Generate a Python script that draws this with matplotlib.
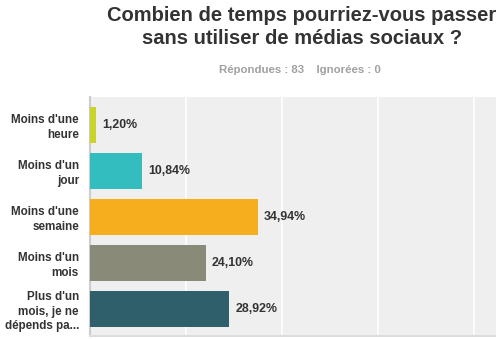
import matplotlib
matplotlib.use("Agg")
import matplotlib.pyplot as plt

categories = ["Moins d'une\nheure", "Moins d'un\njour", "Moins d'une\nsemaine",
              "Moins d'un\nmois", "Plus d'un\nmois, je ne\ndépends pa..."]
values = [1.20, 10.84, 34.94, 24.10, 28.92]
value_labels = ["1,20%", "10,84%", "34,94%", "24,10%", "28,92%"]
colors = ["#c8d42a", "#33bdbe", "#f6ae1f", "#8a8a78", "#2e5f6b"]
title = "Combien de temps pourriez-vous passer\nsans utiliser de médias sociaux ?"
subtitle = "Répondues : 83    Ignorées : 0"

plt.rcParams['font.family'] = ['Liberation Sans', 'DejaVu Sans']

W, H = 496, 339
fig = plt.figure(figsize=(W / 100, H / 100), dpi=100)
ax = fig.add_axes([90 / W, 1 - 336 / H, (496 - 90) / W, (336 - 97) / H])
ax.set_facecolor("#efefef")

ypos = list(range(len(values)))
ax.barh(ypos, values, height=0.78, color=colors, zorder=3)
ax.set_ylim(len(values) - 0.41, -0.6)
ax.set_xlim(0, 84.5)
ax.set_xticks([20, 40, 60, 80])
ax.xaxis.grid(True, color="white", linewidth=1.2, zorder=1)
ax.tick_params(axis='x', which='both', length=0, labelbottom=False)
ax.tick_params(axis='y', length=0, pad=8)
ax.set_yticks(ypos)
ax.set_yticklabels(categories, fontsize=8.4, fontweight='bold', color="#333333",
                   linespacing=1.3)
for lbl in ax.get_yticklabels():
    lbl.set_horizontalalignment('right')

for sp in ['top', 'right']:
    ax.spines[sp].set_visible(False)
ax.spines['left'].set_color("#cccccc")
ax.spines['left'].set_linewidth(1.5)
ax.spines['bottom'].set_color("#dddddd")
ax.spines['bottom'].set_linewidth(1.5)

for y, v, t in zip(ypos, values, value_labels):
    ax.annotate(t, xy=(v, y), xytext=(4.5, 0), textcoords='offset points',
                va='center', ha='left', fontsize=8.9, fontweight='bold',
                color="#333333", zorder=4)

fig.text(302 / W, 1 - 27 / H, title, ha='center', va='center', fontsize=14.5,
         fontweight='bold', color="#333333", linespacing=1.27)
fig.text(300 / W, 1 - 70 / H, subtitle, ha='center', va='center', fontsize=8.2,
         fontweight='bold', color="#a0a0a0")

fig.savefig("out.png", dpi=100)
